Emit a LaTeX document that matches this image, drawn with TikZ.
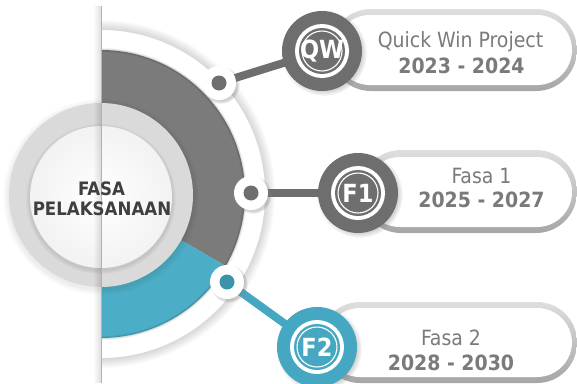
\documentclass[tikz,border=0pt]{standalone}
\usepackage{fontspec}
\setmainfont{DejaVu Sans Condensed}
\usetikzlibrary{shadows}
\definecolor{dgray}{HTML}{6E6E6E}
\definecolor{sgray}{HTML}{7B7B7B}
\definecolor{sblue}{HTML}{4BADC6}
\definecolor{cblue}{HTML}{45A7C1}
\definecolor{dblue}{HTML}{3D93AB}
\definecolor{txt}{HTML}{7A7A7A}
\definecolor{ttl}{HTML}{3F3F3F}
\definecolor{ringc}{HTML}{DADADA}
\definecolor{pilltopc}{HTML}{DEDEDE}
\definecolor{pillbotc}{HTML}{A6A6A6}
\pgfdeclarelayer{back}
\pgfdeclarelayer{mid}
\pgfsetlayers{back,mid,main}
\tikzset{
  dotw/.style={circle, fill=white, minimum size=34pt, inner sep=0pt,
    circular drop shadow={shadow scale=1.12, opacity=0.35}},
  doti/.style={circle, minimum size=15pt, inner sep=0pt},
  bigc/.style={circle, minimum size=80pt, inner sep=0pt,
    circular drop shadow={shadow scale=1.08, opacity=0.4}},
  wring/.style={circle, fill=white, minimum size=54pt, inner sep=0pt},
  core/.style={circle, minimum size=46pt, inner sep=0pt},
  innerline/.style={circle, draw=white, line width=1.1pt, minimum size=40pt, inner sep=0pt},
  lbl/.style={text=white, font=\bfseries\fontsize{25}{27}\selectfont, inner sep=0pt},
  conn/.style={line width=8pt},
  pilltext/.style={text=txt, font=\fontsize{21}{24}\selectfont, anchor=base, inner sep=0pt},
  pillyear/.style={text=txt, font=\bfseries\fontsize{21}{24}\selectfont, anchor=base, inner sep=0pt},
  titletext/.style={text=ttl, font=\bfseries\fontsize{18.5}{20}\selectfont, anchor=base, inner sep=0pt},
  pillouter/.style={top color=pilltopc, bottom color=pillbotc},
}
\begin{document}
\begin{tikzpicture}[x=1pt,y=-1pt]
\useasboundingbox (0,0) rectangle (577,383);

% pills
\shade[pillouter, rounded corners=41pt] (330,9) rectangle (577,91);
\fill[white, rounded corners=35pt] (335,15) rectangle (572,85);
\shade[pillouter, rounded corners=41pt] (360,150) rectangle (577,233);
\fill[white, rounded corners=35pt] (365,157) rectangle (572,227);
\shade[pillouter, rounded corners=40pt] (320,302) rectangle (577,383);
\fill[white, rounded corners=35pt] (325,308) rectangle (572,377);

% small connector dots
\node[dotw] (dot1) at (219,83) {};
\node[doti, fill=dgray] (dot1c) at (dot1) {};
\node[dotw] (dot2) at (251,193) {};
\node[doti, fill=dgray] (dot2c) at (dot2) {};
\node[dotw] (dot3) at (227,282) {};
\node[doti, fill=dblue] (dot3c) at (dot3) {};

% big circles
\node[bigc, fill=dgray] (qw) at (322,51) {};
\node[wring] (qwr) at (qw) {};
\node[core, fill=dgray] (qwc) at (qw) {};
\node[innerline] (qwl) at (qw) {};
\node[lbl] (qwt) at (qw) {QW};

\node[bigc, fill=dgray] (f1) at (358,193) {};
\node[wring] (f1r) at (f1) {};
\node[core, fill=dgray] (f1c) at (f1) {};
\node[innerline] (f1l) at (f1) {};
\node[lbl] (f1t) at (f1) {F1};

\node[bigc, fill=cblue] (f2) at (317,347) {};
\node[wring] (f2r) at (f2) {};
\node[core, fill=cblue] (f2c) at (f2) {};
\node[innerline] (f2l) at (f2) {};
\node[lbl] (f2t) at (f2) {F2};

% pill texts
\node[pilltext] (qwa) at (460.5,47) {Quick Win Project};
\node[pillyear] (qwb) at (461.5,73) {2023 - 2024};
\node[pilltext] (f1a) at (481.5,183) {Fasa 1};
\node[pillyear] (f1b) at (481.5,207) {2025 - 2027};
\node[pilltext] (f2a) at (451,345) {Fasa 2};
\node[pillyear] (f2b) at (451,370) {2028 - 2030};

% title
\node[titletext] (t1) at (101.5,195) {FASA};
\node[titletext] (t2) at (102,215) {PELAKSANAAN};

\begin{pgfonlayer}{mid}
  \draw[conn, dgray] (dot1.center) -- (qw.center);
  \draw[conn, dgray] (dot2.center) -- (f1.center);
  \draw[conn, cblue] (dot3.center) -- (f2.center);
\end{pgfonlayer}

\begin{pgfonlayer}{back}
  % shadow of the outer white half ring
  \foreach \i in {1,...,10}
    \fill[black, opacity=0.014] (101,{194-164-\i}) arc[start angle=-90, end angle=90, radius={164+\i}] -- cycle;
  \fill[white] (101,30) arc[start angle=-90, end angle=90, radius=164] -- cycle;
  % coloured sectors
  \fill[sgray] (101,194) -- ++(-90:144) arc[start angle=-90, end angle=30, radius=144] -- cycle;
  \fill[sblue] (101,194) -- ++(30:144) arc[start angle=30, end angle=90, radius=144] -- cycle;
  % shadow of the inner edge of the white ring on the sectors
  \foreach \i in {1,...,4}
    \draw[black, opacity=0.04, line width={\i pt}] (101,50) arc[start angle=-90, end angle=90, radius=144];
  % centre circle
  \foreach \i in {1,...,6}
    \fill[black, opacity=0.012] (101,197) circle[radius={92+\i}];
  \fill[ringc] (101,195) circle[radius=92];
  \foreach \i in {1,...,4}
    \fill[black, opacity=0.025] (101,199) circle[radius={71+\i}];
  \shade[inner color=white, outer color=white!95!black] (101,197) circle[radius=71];
  % vertical shadow line
  \foreach \i in {0,...,6}
    \fill[black, opacity=0.015] ({100-\i},6) rectangle (101.2,383);
  \draw[black!30, line width=0.8pt] (101,6) -- (101,383);
\end{pgfonlayer}
\end{tikzpicture}
\end{document}
